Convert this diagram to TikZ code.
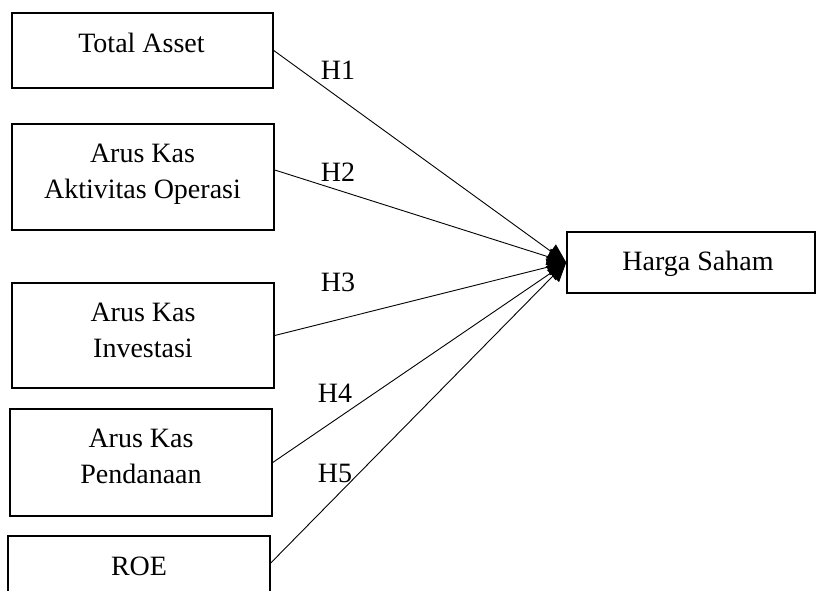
\documentclass[tikz,border=0pt]{standalone}
\usepackage{fontspec}
\setmainfont{Liberation Serif}
\usetikzlibrary{arrows.meta}
\begin{document}
\begin{tikzpicture}[x=1pt,y=-1pt,
  box/.style={draw,line width=1.5pt,rectangle,inner sep=0pt,minimum width=#1},
  txt/.style={inner sep=0pt,anchor=base,align=center,font=\fontsize{28}{35.5}\selectfont},
  hlab/.style={inner sep=0pt,font=\fontsize{28}{34}\selectfont},
  link/.style={line width=0.9pt,-{Triangle[length=19pt,width=17pt]}}]
\useasboundingbox (0,0) rectangle (817,591);
\clip (0,0) rectangle (817,591);
\node[box=261pt,minimum height=75pt] (ta) at (142.5,50.5) {};
\node[box=262pt,minimum height=106pt] (ao) at (143,177) {};
\node[box=262pt,minimum height=105pt] (inv) at (143,335.5) {};
\node[box=262pt,minimum height=107pt] (pd) at (141,462.5) {};
\node[box=262pt,minimum height=58pt] (roe) at (139,565) {};
\node[box=248pt,minimum height=61pt] (hs) at (691,262.5) {};
\node[txt] (tat) at (141.5,53) {Total Asset};
\node[txt] (aot) at (142.5,198) {Arus Kas\\Aktivitas Operasi};
\node[txt] (invt) at (143,357) {Arus Kas\\Investasi};
\node[txt] (pdt) at (141,483) {Arus Kas\\Pendanaan};
\node[txt] (roet) at (139,575) {ROE};
\node[txt] (hst) at (698,270) {Harga Saham};
\draw[link] (ta.east) -- (hs.west);
\draw[link] ([yshift=7pt]ao.east) -- (hs.west);
\draw[link] (inv.east) -- (hs.west);
\draw[link] (pd.east) -- (hs.west);
\draw[link] ([yshift=2pt]roe.east) -- (hs.west);
\node[hlab] (h1) at (338,70) {H1};
\node[hlab] (h2) at (338,172) {H2};
\node[hlab] (h3) at (338,282) {H3};
\node[hlab] (h4) at (335,393) {H4};
\node[hlab] (h5) at (335,473) {H5};
\end{tikzpicture}
\end{document}
